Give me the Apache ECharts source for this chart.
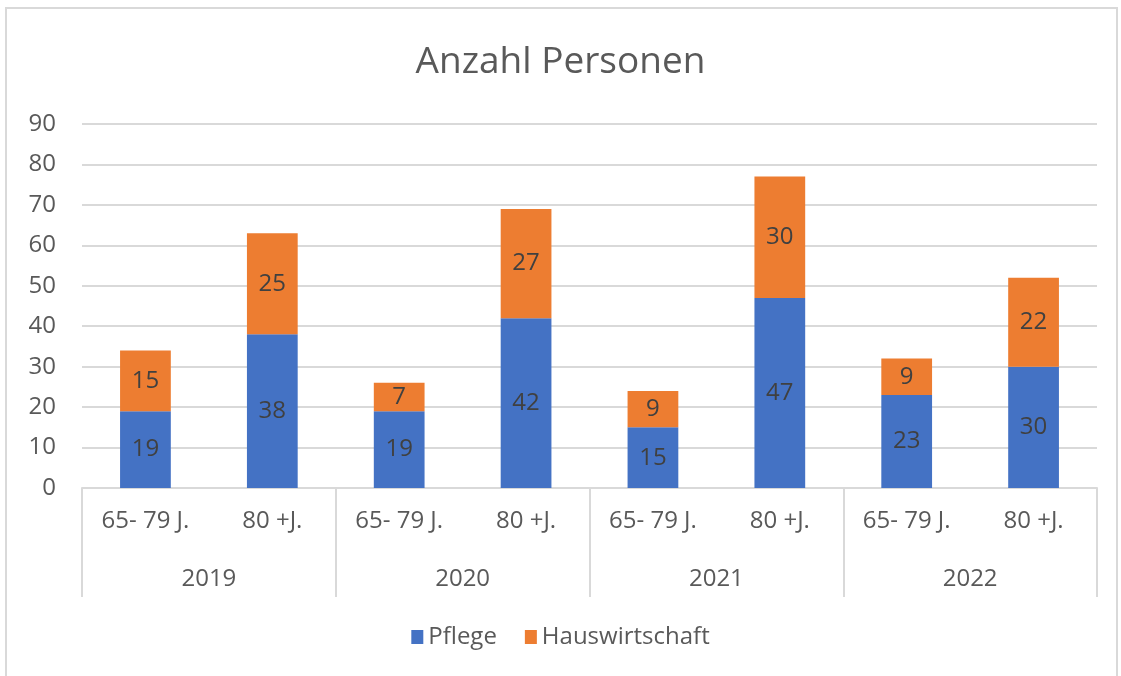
<!DOCTYPE html>
<html>
<head>
<meta charset="utf-8">
<script src="https://cdn.jsdelivr.net/npm/echarts@6/dist/echarts.min.js"></script>
<style>
  html, body { margin: 0; padding: 0; background: #fff; }
  #chart { width: 1121px; height: 676px; }
</style>
</head>
<body>
<div id="chart"></div>
<script>
var ageGroups = ['65- 79 J.', '80 +J.', '65- 79 J.', '80 +J.', '65- 79 J.', '80 +J.', '65- 79 J.', '80 +J.'];
var years = ['2019', '2020', '2021', '2022'];
var pflege = [19, 38, 19, 42, 15, 47, 23, 30];
var hauswirtschaft = [15, 25, 7, 27, 9, 30, 9, 22];

var fontFam = '"Open Sans", "Noto Sans", sans-serif';
var textGray = '#595959';
var lineGray = '#D9D9D9';

var myChart = echarts.init(document.getElementById('chart'));
var option = {
    animation: false,
    textStyle: { fontFamily: fontFam },
    title: {
        text: 'Anzahl Personen',
        left: 'center',
        top: 39,
        textStyle: { color: textGray, fontSize: 37, fontWeight: 'normal', fontFamily: fontFam }
    },
    graphic: [{
        type: 'rect',
        shape: { x: 6, y: 8, width: 1111, height: 680 },
        style: { fill: 'none', stroke: lineGray, lineWidth: 2 },
        silent: true
    }],
    legend: {
        bottom: 22,
        left: 'center',
        itemWidth: 12,
        itemHeight: 14,
        itemGap: 28,
        icon: 'rect',
        textStyle: { color: textGray, fontSize: 24, fontFamily: fontFam },
        data: ['Pflege', 'Hauswirtschaft']
    },
    grid: { left: 82, right: 24, top: 124, bottom: 188 },
    xAxis: [{
        type: 'category',
        data: ageGroups,
        axisLine: { lineStyle: { color: lineGray, width: 2 } },
        axisTick: { show: false },
        axisLabel: { color: textGray, fontSize: 24, margin: 21, interval: 0 }
    }, {
        type: 'category',
        data: years,
        position: 'bottom',
        axisLine: { show: false },
        axisTick: { show: true, length: 109, lineStyle: { color: lineGray, width: 2 } },
        axisLabel: { color: textGray, fontSize: 24, margin: 79 },
        splitLine: { show: false }
    }],
    yAxis: {
        type: 'value',
        min: 0,
        max: 90,
        interval: 10,
        axisLine: { show: false },
        axisTick: { show: false },
        axisLabel: { color: textGray, fontSize: 24, margin: 26 },
        splitLine: { lineStyle: { color: lineGray, width: 2 } }
    },
    series: [{
        name: 'Pflege',
        type: 'bar',
        stack: 'total',
        xAxisIndex: 0,
        barWidth: '40%',
        data: pflege,
        itemStyle: { color: '#4472C4' },
        label: { show: true, position: 'inside', color: '#404040', fontSize: 24, fontFamily: fontFam }
    }, {
        name: 'Hauswirtschaft',
        type: 'bar',
        stack: 'total',
        xAxisIndex: 0,
        barWidth: '40%',
        data: hauswirtschaft,
        itemStyle: { color: '#ED7D31' },
        label: { show: true, position: 'inside', color: '#404040', fontSize: 24, fontFamily: fontFam }
    }]
};
myChart.setOption(option);
</script>
</body>
</html>
